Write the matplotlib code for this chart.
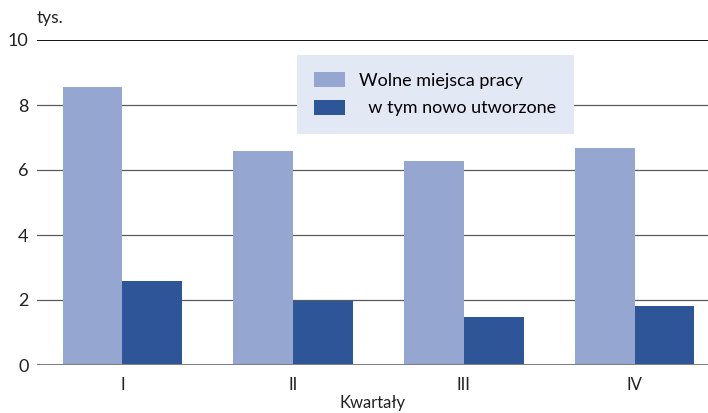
import numpy as np
import matplotlib.pyplot as plt

plt.rcParams['font.family'] = ['Lato', 'DejaVu Sans']

kwartaly = ['I', 'II', 'III', 'IV']
wolne = [8.55, 6.58, 6.28, 6.68]
nowe = [2.58, 1.97, 1.48, 1.82]

jasny = '#95a7d1'
ciemny = '#2e5597'

fig = plt.figure(figsize=(7.08, 4.13), dpi=100)
ax = fig.add_axes([37 / 708, 48 / 413, 1 - 37 / 708, 325 / 413])

x = np.arange(len(kwartaly))
w = 0.35
ax.bar(x - w / 2, wolne, w, color=jasny, label='Wolne miejsca pracy', zorder=3)
ax.bar(x + w / 2, nowe, w, color=ciemny, label='  w tym nowo utworzone', zorder=3)

ax.set_xlim(-0.5, 3.43)
ax.set_ylim(0, 10)
ax.set_yticks([0, 2, 4, 6, 8, 10])
ax.set_xticks(x)
ax.set_xticklabels(kwartaly, fontsize=12, color='#222222')
ax.tick_params(axis='y', length=0, labelsize=13, pad=6, colors='#222222')
ax.tick_params(axis='x', length=0, pad=9)

for s in ax.spines.values():
    s.set_visible(False)

# linie siatki
for v in [2, 4, 6, 8]:
    ax.axhline(v, color='#5a5a5a', linewidth=0.9, zorder=1)
ax.axhline(10, color='black', linewidth=1.3, zorder=1)
ax.axhline(0, color='#808080', linewidth=2.2, zorder=4)

ax.set_xlabel('Kwartały', fontsize=12, color='#222222', labelpad=1)
fig.text(37 / 708, 1 - 18 / 413, 'tys.', fontsize=12.5, color='#222222', va='center')

leg = ax.legend(loc='upper left', bbox_to_anchor=(297 / 708, 1 - 55 / 413),
                bbox_transform=fig.transFigure, fontsize=13, frameon=True,
                fancybox=False, handlelength=1.7, handleheight=0.9,
                borderpad=0.95, labelspacing=0.6, handletextpad=0.8, borderaxespad=0)
leg.get_frame().set_facecolor('#e3e8f5')
leg.get_frame().set_edgecolor('none')
leg.get_frame().set_alpha(1)
leg.set_zorder(5)

fig.savefig('out.png', dpi=100)
